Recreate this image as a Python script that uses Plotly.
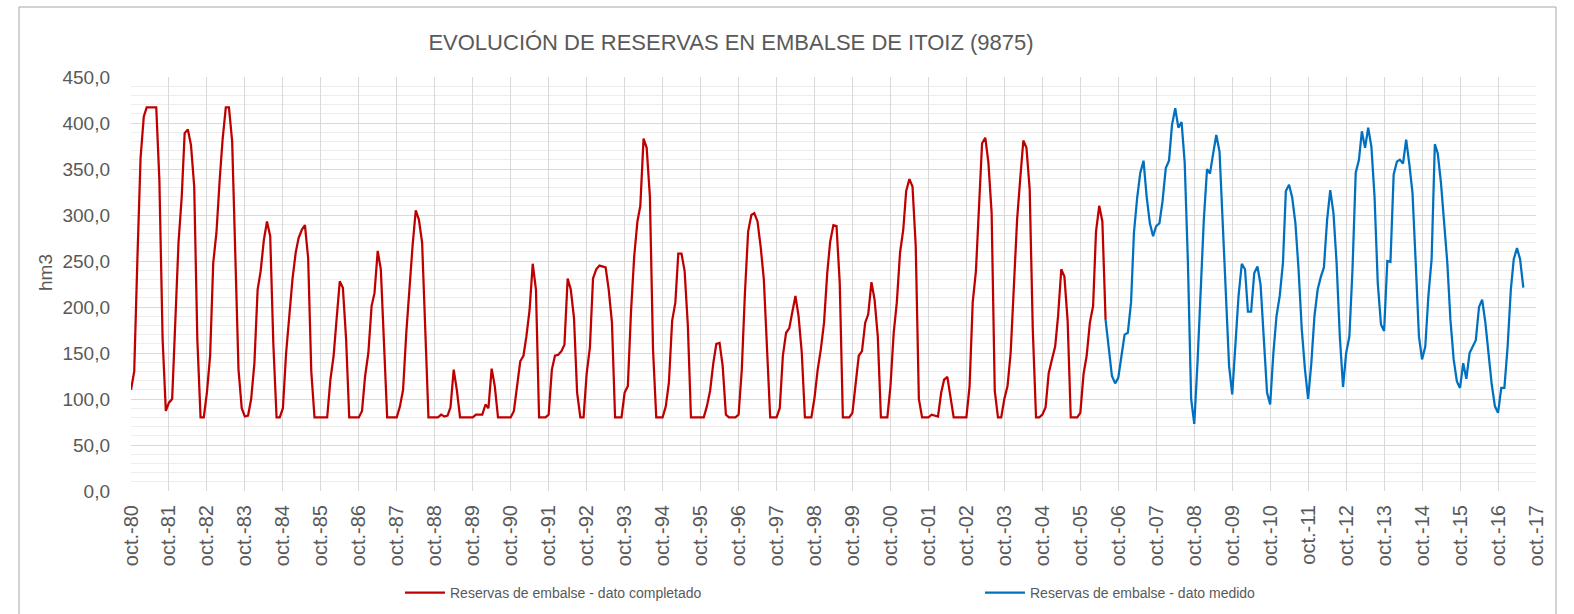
import pandas as pd
import plotly.graph_objects as go

# ---------------- data (hm3, monthly, starting oct-1980) ----------------
START_MONTH = "1980-10-01"

RED_VALUES = [
    110, 130, 250, 362, 407, 417, 417, 417, 417, 338, 165, 87,
    96, 100, 190, 270, 320, 389, 393, 376, 331, 165, 80, 80,
    107, 147, 248, 281, 338, 382, 417, 417, 380, 250, 132, 90,
    81, 82, 100, 139, 219, 239, 273, 293, 277, 160, 80, 80,
    90, 150, 194, 230, 259, 275, 284, 289, 253, 130, 80, 80,
    80, 80, 80, 121, 147, 186, 228, 221, 165, 80, 80, 80,
    80, 87, 125, 150, 201, 215, 261, 241, 160, 80, 80, 80,
    80, 92, 110, 172, 226, 266, 305, 295, 270, 168, 80, 80,
    80, 80, 83, 81, 82, 91, 132, 110, 80, 80, 80, 80,
    80, 83, 83, 83, 94, 90, 133, 114, 80, 80, 80, 80,
    80, 87, 114, 141, 147, 168, 197, 247, 219, 80, 80, 80,
    83, 132, 147, 148, 152, 159, 231, 219, 188, 107, 80, 80,
    128, 156, 231, 241, 245, 244, 243, 219, 183, 80, 80, 80,
    107, 114, 194, 255, 293, 310, 383, 373, 320, 154, 80, 80,
    80, 92, 118, 185, 205, 258, 258, 239, 180, 80, 80, 80,
    80, 80, 92, 109, 139, 160, 161, 136, 83, 80, 80, 80,
    83, 132, 215, 282, 300, 302, 293, 266, 230, 147, 80, 80,
    80, 90, 147, 172, 177, 194, 212, 190, 150, 80, 80, 80,
    101, 132, 154, 183, 237, 271, 289, 288, 226, 80, 80, 80,
    85, 118, 147, 152, 183, 192, 227, 208, 168, 80, 80, 80,
    114, 172, 205, 259, 284, 326, 339, 331, 266, 100, 80, 80,
    80, 83, 82, 81, 107, 121, 124, 100, 80, 80, 80, 80,
    80, 114, 205, 239, 317, 378, 384, 357, 302, 109, 80, 80,
    100, 114, 150, 223, 295, 338, 381, 373, 328, 175, 80, 80,
    83, 91, 128, 143, 157, 190, 241, 233, 185, 80, 80, 80,
    85, 127, 147, 183, 201, 282, 310, 293, 186,
]

BLUE_VALUES = [
    186, 154, 125, 117, 123, 147, 170, 172, 205, 281,
    319, 346, 359, 320, 291, 277, 288, 291, 315, 351,
    359, 398, 416, 395, 401, 357, 248, 100, 73, 139,
    223, 295, 350, 345, 367, 387, 369, 288, 205, 136,
    105, 157, 212, 247, 241, 195, 195, 237, 244, 224,
    168, 107, 94, 150, 190, 212, 248, 326, 333, 319,
    291, 241, 176, 132, 100, 139, 190, 219, 233, 243,
    295, 327, 302, 248, 168, 113, 150, 168, 241, 346,
    360, 391, 373, 395, 374, 320, 226, 181, 174, 250,
    249, 344, 358, 360, 356, 382, 355, 324, 248, 168,
    143, 157, 212, 252, 377, 367, 335, 291, 248, 186,
    143, 119, 112, 139, 122, 150, 157, 164, 200, 208,
    183, 150, 116, 92, 85, 112, 112, 157, 219, 252,
    264, 252, 221,
]

TICK_YEARS = list(range(1980, 2018))
TICK_DATES = [f"{y}-10-01" for y in TICK_YEARS]
TICK_LABELS = [f"oct.-{y % 100:02d}" for y in TICK_YEARS]

TITLE = "EVOLUCIÓN DE RESERVAS EN EMBALSE DE ITOIZ (9875)"
NAME_RED = "Reservas de embalse - dato completado"
NAME_BLUE = "Reservas de embalse - dato medido"

# ---------------- figure ----------------
n_total = len(RED_VALUES) + len(BLUE_VALUES) - 1
months = pd.date_range(START_MONTH, periods=n_total, freq="MS")
red_x = months[:len(RED_VALUES)]
blue_x = months[len(RED_VALUES) - 1:]

W, H = 1574, 614
L, R, T, B = 131, 38, 77, 123
PW, PH = W - L - R, H - T - B
TXT = "#595959"
FONT = "Liberation Sans, Arial, sans-serif"

def px_x(x):
    return (x - L) / PW

def px_y(y):
    return (H - B - y) / PH

fig = go.Figure()
fig.add_trace(go.Scatter(
    x=red_x, y=RED_VALUES, mode="lines", name=NAME_RED,
    line=dict(color="#C00000", width=2.25), legend="legend",
))
fig.add_trace(go.Scatter(
    x=blue_x, y=BLUE_VALUES, mode="lines", name=NAME_BLUE,
    line=dict(color="#0070C0", width=2.25), legend="legend2",
))

fig.update_layout(
    width=W, height=H, autosize=False,
    margin=dict(l=L, r=R, t=T, b=B, autoexpand=False),
    paper_bgcolor="white", plot_bgcolor="white",
    separators=",.",
    font=dict(family=FONT, color=TXT, size=14),
    title=dict(
        text=TITLE, x=px_x(731), xref="paper", xanchor="center",
        y=1 - 42 / H, yref="container", yanchor="middle",
        font=dict(size=22, color=TXT, family=FONT),
    ),
    xaxis=dict(
        type="date", automargin=False,
        range=[TICK_DATES[0], TICK_DATES[-1]],
        tickmode="array", tickvals=TICK_DATES, ticktext=TICK_LABELS,
        tickangle=-90, tickfont=dict(size=20, color=TXT),
        showgrid=True, gridcolor="#D9D9D9", gridwidth=1,
        zeroline=False, showline=False, ticks="",
        ticklabelstandoff=9,
    ),
    yaxis=dict(
        range=[0, 450], dtick=50, tick0=0, tickformat=".1f", automargin=False,
        tickfont=dict(size=19, color=TXT),
        showgrid=True, gridcolor="#D9D9D9", gridwidth=1,
        minor=dict(dtick=10, showgrid=True, gridcolor="#EDEDED", gridwidth=1),
        zeroline=False, showline=False, ticks="",
        ticklabelstandoff=20,
    ),
    legend=dict(
        orientation="h", x=px_x(400), xanchor="left",
        y=1 - 593 / H, yanchor="middle", yref="container",
        font=dict(size=14, color=TXT), bgcolor="rgba(0,0,0,0)",
        itemwidth=40,
    ),
    legend2=dict(
        orientation="h", x=px_x(980), xanchor="left",
        y=1 - 593 / H, yanchor="middle", yref="container",
        font=dict(size=14, color=TXT), bgcolor="rgba(0,0,0,0)",
        itemwidth=40,
    ),
    showlegend=True,
)

fig.add_annotation(
    text="hm3", x=px_x(45), y=px_y(273), xref="paper", yref="paper",
    textangle=-90, showarrow=False, xanchor="center", yanchor="middle",
    font=dict(size=19, color=TXT, family=FONT),
)

# outer chart border
fig.add_shape(
    type="rect", xref="paper", yref="paper",
    x0=px_x(19), x1=px_x(1556), y0=px_y(640), y1=px_y(7),
    line=dict(color="#A6A6A6", width=1), fillcolor="rgba(0,0,0,0)",
    layer="below",
)

fig.write_html(
    "out.html",
    config={"displayModeBar": False},
    post_script="document.body.style.margin='0';document.body.style.overflow='hidden';",
)
